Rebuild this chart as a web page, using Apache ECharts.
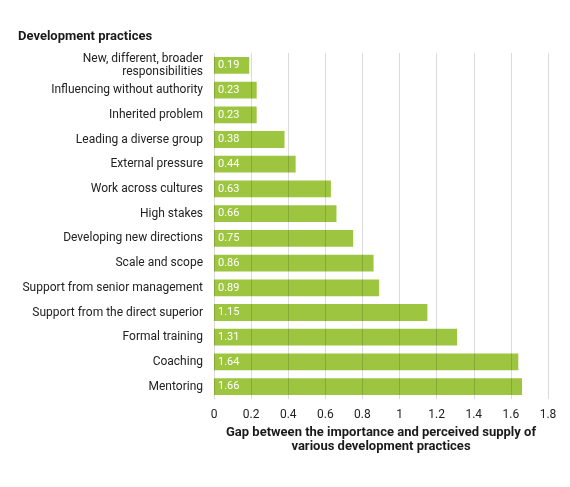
<!DOCTYPE html>
<html>
<head>
<meta charset="UTF-8">
<title>Development practices</title>
<script src="https://cdn.jsdelivr.net/npm/echarts@6/dist/echarts.min.js"></script>
<style>
  html, body { margin: 0; padding: 0; background: #fff; }
  #chart { width: 570px; height: 487px; }
</style>
</head>
<body>
<div id="chart"></div>
<script>
var practices = [
  'New, different, broader\nresponsibilities',
  'Influencing without authority',
  'Inherited problem',
  'Leading a diverse group',
  'External pressure',
  'Work across cultures',
  'High stakes',
  'Developing new directions',
  'Scale and scope',
  'Support from senior management',
  'Support from the direct superior',
  'Formal training',
  'Coaching',
  'Mentoring'
];
var gaps = [0.19, 0.23, 0.23, 0.38, 0.44, 0.63, 0.66, 0.75, 0.86, 0.89, 1.15, 1.31, 1.64, 1.66];
var xTicks = [0, 0.2, 0.4, 0.6, 0.8, 1, 1.2, 1.4, 1.6, 1.8];

var font = "'Liberation Sans Narrow', 'Roboto', sans-serif";
var chart = echarts.init(document.getElementById('chart'));

var option = {
  animation: false,
  textStyle: { fontFamily: font },
  title: {
    text: 'Development practices',
    left: 13,
    top: 25,
    textStyle: { fontFamily: font, fontSize: 13, fontWeight: 'bold', color: '#1a1a1a' }
  },
  grid: { left: 214, right: 22, top: 53, bottom: 88, containLabel: false },
  xAxis: {
    type: 'value',
    min: 0,
    max: 1.8,
    interval: 0.2,
    z: 5,
    axisLine: { show: false },
    axisTick: { show: false },
    splitLine: { show: true, lineStyle: { color: 'rgba(0,0,0,0.14)', width: 1 } },
    axisLabel: {
      color: '#222',
      fontSize: 12,
      margin: 10,
      formatter: function (v) {
        var t = xTicks.filter(function (x) { return Math.abs(x - v) < 1e-6; });
        return t.length ? String(t[0]) : '';
      }
    },
    name: 'Gap between the importance and perceived supply of\nvarious development practices',
    nameLocation: 'middle',
    nameGap: 26,
    nameTextStyle: { fontFamily: font, fontSize: 13, fontWeight: 'bold', color: '#1a1a1a', lineHeight: 14, verticalAlign: 'top' }
  },
  yAxis: {
    type: 'category',
    inverse: true,
    data: practices,
    axisLine: { show: false },
    axisTick: { show: false },
    axisLabel: { color: '#222', fontSize: 12, margin: 11, lineHeight: 13 }
  },
  series: [{
    type: 'bar',
    data: gaps,
    barCategoryGap: '32%',
    itemStyle: { color: '#9dc540' },
    label: {
      show: true,
      position: 'insideLeft',
      distance: 4,
      color: '#fff',
      fontSize: 11,
      fontFamily: font,
      formatter: function (p) { return p.value.toFixed(2); }
    }
  }]
};

chart.setOption(option);
</script>
</body>
</html>
